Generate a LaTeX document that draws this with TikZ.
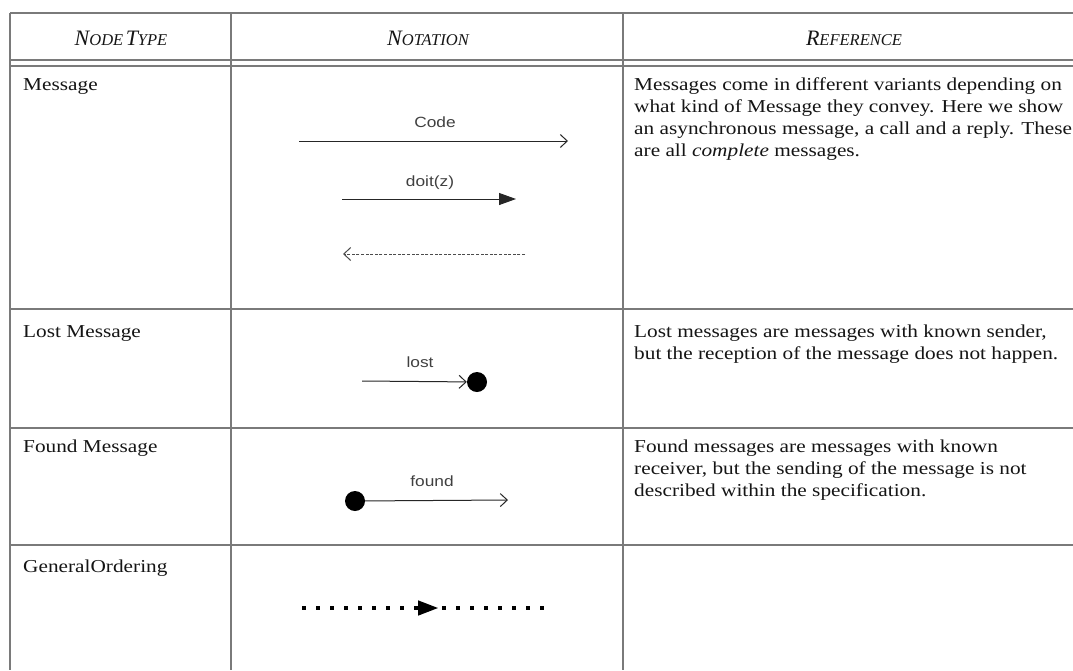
\documentclass[tikz,border=0pt]{standalone}
\usepackage{fontspec}
\setmainfont[FakeStretch=1.17]{Liberation Serif}
\newfontfamily\headfont{Liberation Serif}
\newfontfamily\notefont[FakeStretch=1.17]{Liberation Sans}
\usetikzlibrary{arrows.meta}

% italic small capitals for the column heads
\newcommand\hcap[2]{{\fontsize{22}{22}\selectfont #1}{\fontsize{16.5}{16.5}\selectfont #2}}

\definecolor{rulegray}{HTML}{7A7A7A}
\definecolor{inkgray}{HTML}{151515}
\definecolor{notegray}{HTML}{404040}

\tikzset{
  rule/.style={draw=rulegray, line width=1.4pt},
  head/.style={inner sep=0pt, anchor=base, text=inkgray, font=\headfont\itshape},
  kind/.style={inner sep=0pt, anchor=base west, text=inkgray, font=\fontsize{18.2}{22}\selectfont},
  desc/.style={inner sep=0pt, anchor=base west, align=left, text=inkgray, font=\fontsize{18.2}{22}\selectfont},
  note/.style={inner sep=0pt, anchor=base, text=notegray, font=\notefont\fontsize{14.8}{16}\selectfont},
  msg/.style={draw=black!85, line width=1pt},
  openhead/.style={-{Straight Barb[length=7pt,width=13pt,line width=1pt]}},
  dot/.style={circle, fill=black, inner sep=0pt, minimum size=20pt},
}

\begin{document}
\begin{tikzpicture}[x=1pt,y=-1pt]
\useasboundingbox (0,0) rectangle (1073,670);
\fill[white] (0,0) rectangle (1073,670);

% table rules
\draw[rule] (10,13) -- (1073,13);
\draw[rule] (10,60) -- (1073,60);
\draw[rule] (10,66) -- (1073,66);
\draw[rule] (10,309) -- (1073,309);
\draw[rule] (10,428) -- (1073,428);
\draw[rule] (10,545) -- (1073,545);
\draw[rule] (10,13) -- (10,670);
\draw[rule] (231,13) -- (231,670);
\draw[rule] (623,13) -- (623,670);

% column heads
\node[head] (hType) at (121,45) {\hcap{N}{ODE} \hcap{T}{YPE}};
\node[head] (hNotation) at (428,45) {\hcap{N}{OTATION}};
\node[head] (hRef) at (854,45) {\hcap{R}{EFERENCE}};

% node type names
\node[kind] (kMsg) at (23,90) {Message};
\node[kind] (kLost) at (23,337) {Lost Message};
\node[kind] (kFound) at (23,452) {Found Message};
\node[kind] (kOrder) at (23,572) {GeneralOrdering};

% explanations (anchored on the baseline of their last line)
\node[desc] (rMsg) at (634,156) {Messages come in different variants depending on\\
what kind of Message they convey. Here we show\\
an asynchronous message, a call and a reply. These\\
are all \textit{complete} messages.};
\node[desc] (rLost) at (634,359) {Lost messages are messages with known sender,\\
but the reception of the message does not happen.};
\node[desc] (rFound) at (634,496) {Found messages are messages with known\\
receiver, but the sending of the message is not\\
described within the specification.};

% asynchronous message
\coordinate (aFrom) at (299,141);
\coordinate (aTo) at (568,141);
\draw[msg, openhead] (aFrom) -- (aTo);
\node[note] (aLbl) at (435,127) {Code};

% synchronous call
\coordinate (cFrom) at (342,199);
\coordinate (cTo) at (516,199);
\draw[msg, -{Triangle[length=17pt,width=12pt]}] (cFrom) -- (cTo);
\node[note] (cLbl) at (430,186) {doit(z)};

% reply
\coordinate (rFrom) at (525,254);
\coordinate (rTo) at (343,254);
\draw[msg, draw=black!70, dash pattern=on 3pt off 1.6pt, openhead] (rFrom) -- (rTo);

% lost message
\node[dot] (lDot) at (477,382) {};
\coordinate (lFrom) at (362,381);
\draw[msg, openhead] (lFrom) -- (lDot);
\node[note] (lLbl) at (420,367) {lost};

% found message
\node[dot] (fDot) at (355,501) {};
\coordinate (fTo) at (508,500);
\draw[msg, openhead] (fDot) -- (fTo);
\node[note] (fLbl) at (432,486) {found};

% general ordering
\coordinate (gFrom) at (302,608);
\coordinate (gTail) at (430,608);
\coordinate (gMid) at (438,608);
\coordinate (gTo) at (545,608);
\draw[line width=3.5pt, dash pattern=on 4pt off 10pt] (gFrom) -- (gTo);
\draw[line width=1.5pt, -{Triangle[length=20pt,width=15pt]}] (gTail) -- (gMid);
\end{tikzpicture}
\end{document}
